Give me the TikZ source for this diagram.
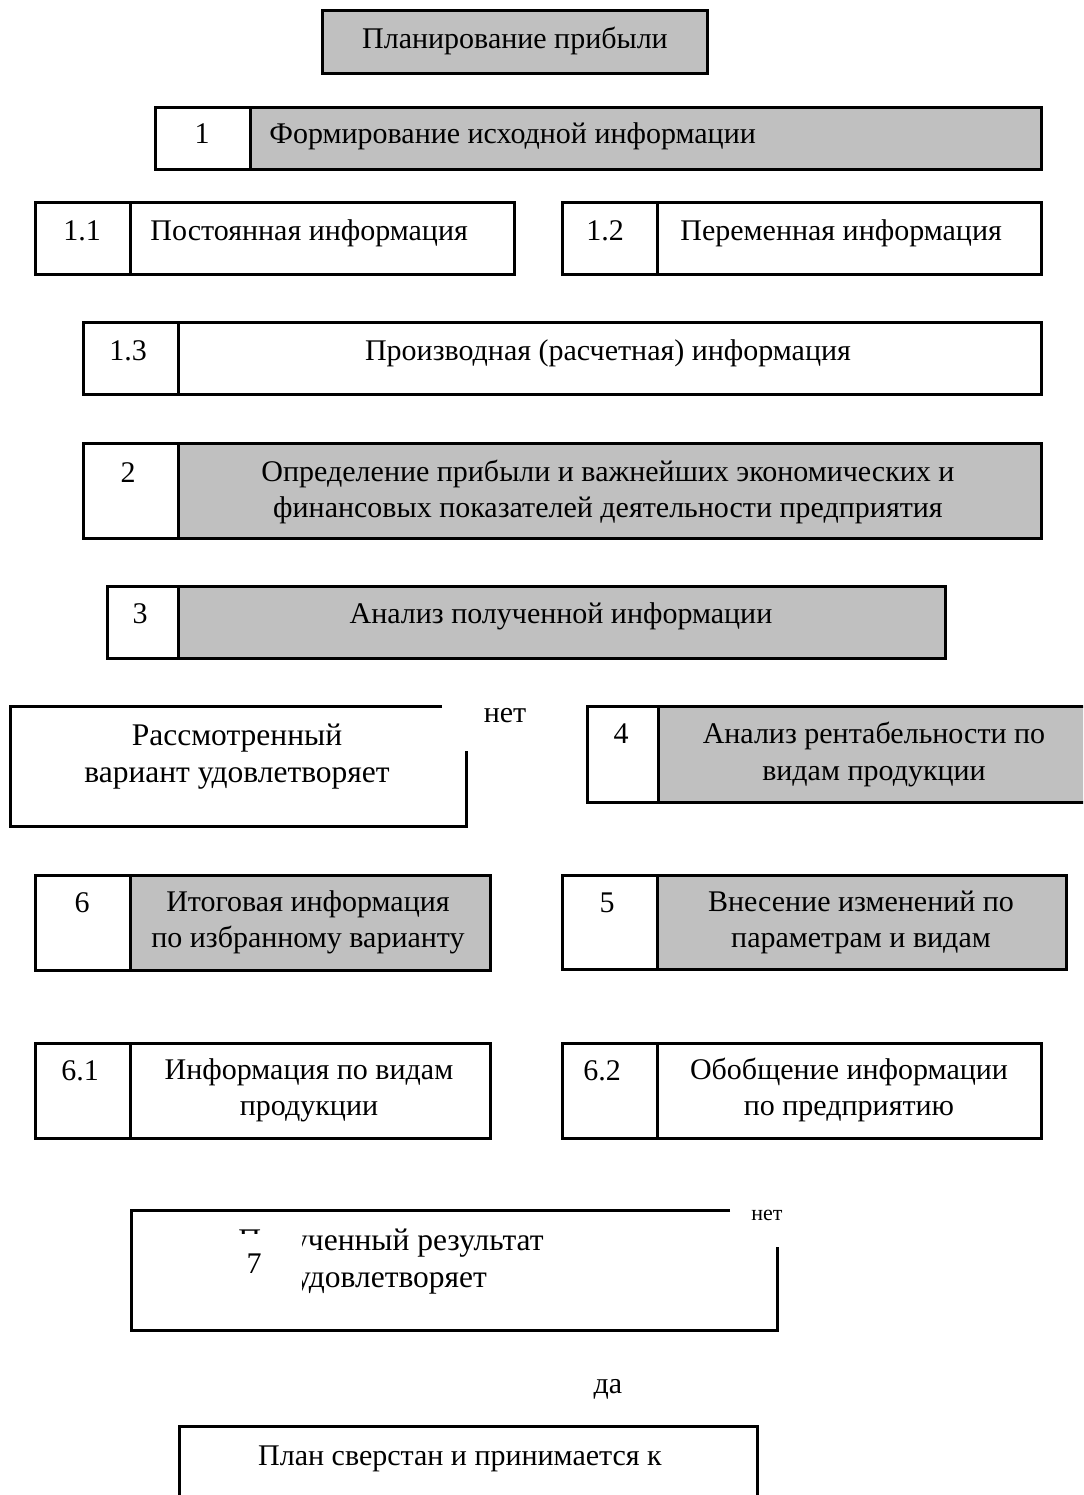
\documentclass[tikz,border=0pt]{standalone}
\usepackage{fontspec}
\setmainfont{Liberation Serif}
\definecolor{boxgray}{RGB}{192,192,192}
\def\numbox[#1](#2,#3,#4,#5,#6){\fill[#1] (#3,#4) rectangle (#5,#6); \draw[frame] (#2,#4) rectangle (#5,#6); \draw[frame] (#3,#4) -- (#3,#6);}

\begin{document}
\begin{tikzpicture}[x=0.5pt, y=-0.5pt,
	frame/.style={line width=1.5pt},
	txt/.style={anchor=base, align=center, inner sep=0pt, font=\fontsize{15}{18}\selectfont},
	bigtxt/.style={txt, font=\fontsize{15.75}{18.5}\selectfont},
	smalltxt/.style={anchor=base, inner sep=0pt, font=\fontsize{11}{13}\selectfont}]
		%%%%% START %%%%%
		\useasboundingbox (0, 0) rectangle (1083, 1495);
		\clip (0, 0) rectangle (1083, 1495);
		
		\draw[frame, fill=boxgray] (322, 10) rectangle (707, 73);
		\node[txt] (plan) at (515, 48) {Планирование прибыли};
		
		\numbox[boxgray](155, 250, 107, 1041, 169)
		\node[txt] (n1) at (202, 143) {1};
		\node[txt, anchor=base west] (t1) at (269, 143) {Формирование исходной информации};
		
		\numbox[white](35, 130, 202, 514, 274)
		\node[txt] (n11) at (82, 240) {1.1};
		\node[txt, anchor=base west] (t11) at (150, 240) {Постоянная информация};
		\numbox[white](562, 657, 202, 1041, 274)
		\node[txt] (n12) at (605, 240) {1.2};
		\node[txt, anchor=base west] (t12) at (680, 240) {Переменная информация};
		
		\numbox[white](83, 178, 322, 1041, 394)
		\node[txt] (n13) at (128, 360) {1.3};
		\node[txt] (t13) at (608, 360) {Производная (расчетная) информация};
		
		% two-line texts: base is the second line
		\numbox[boxgray](83, 178, 443, 1041, 538)
		\node[txt] (n2) at (128, 482) {2};
		\node[txt] (t2) at (608, 517) {Определение прибыли и важнейших экономических и\\финансовых показателей деятельности предприятия};
		
		\numbox[boxgray](107, 178, 586, 945, 658)
		\node[txt] (n3) at (140, 623) {3};
		\node[txt] (t3) at (561, 623) {Анализ полученной информации};
		
		\draw[frame] (442, 706) -- (10, 706) -- (10, 826) -- (466, 826) -- (466, 751);
		\node[bigtxt] (var) at (237, 782) {Рассмотренный\\вариант удовлетворяет};
		\node[txt] (no1) at (505, 722) {нет};
		
		\numbox[boxgray](587, 658, 706, 1092, 802)
		\node[txt] (n4) at (621, 743) {4};
		\node[txt, font=\fontsize{15}{18.5}\selectfont] (t4) at (874, 780) {Анализ рентабельности по\\видам продукции};
		
		\numbox[boxgray](35, 130, 875, 490, 970)
		\node[txt] (n6) at (82, 912) {6};
		\node[txt] (t6) at (308, 947) {Итоговая информация\\по избранному варианту};
		\numbox[boxgray](562, 657, 875, 1066, 969)
		\node[txt] (n5) at (607, 912) {5};
		\node[txt] (t5) at (861, 947) {Внесение изменений по\\параметрам и видам};
		
		\numbox[white](35, 130, 1043, 490, 1138)
		\node[txt] (n61) at (80, 1080) {6.1};
		\node[txt] (t61) at (309, 1115) {Информация по видам\\продукции};
		\numbox[white](562, 657, 1043, 1041, 1138)
		\node[txt] (n62) at (602, 1080) {6.2};
		\node[txt] (t62) at (849, 1115) {Обобщение информации\\по предприятию};
		
		\draw[frame] (730, 1210) -- (131, 1210) -- (131, 1330) -- (777, 1330) -- (777, 1247);
		\node[bigtxt] (res) at (391, 1287) {Полученный результат\\удовлетворяет};
		\fill[white] (214, 1234) rectangle (302, 1300);
		\node[txt] (n7) at (254, 1273) {7};
		\node[smalltxt] (no2) at (767, 1220) {нет};
		\node[txt] (yes) at (608, 1393) {да};
		
		\draw[frame] (179, 1500) -- (179, 1426) -- (757, 1426) -- (757, 1500);
		\node[txt] (done) at (460, 1465) {План сверстан и принимается к};
		%%%%% END %%%%%
\end{tikzpicture}
\end{document}
